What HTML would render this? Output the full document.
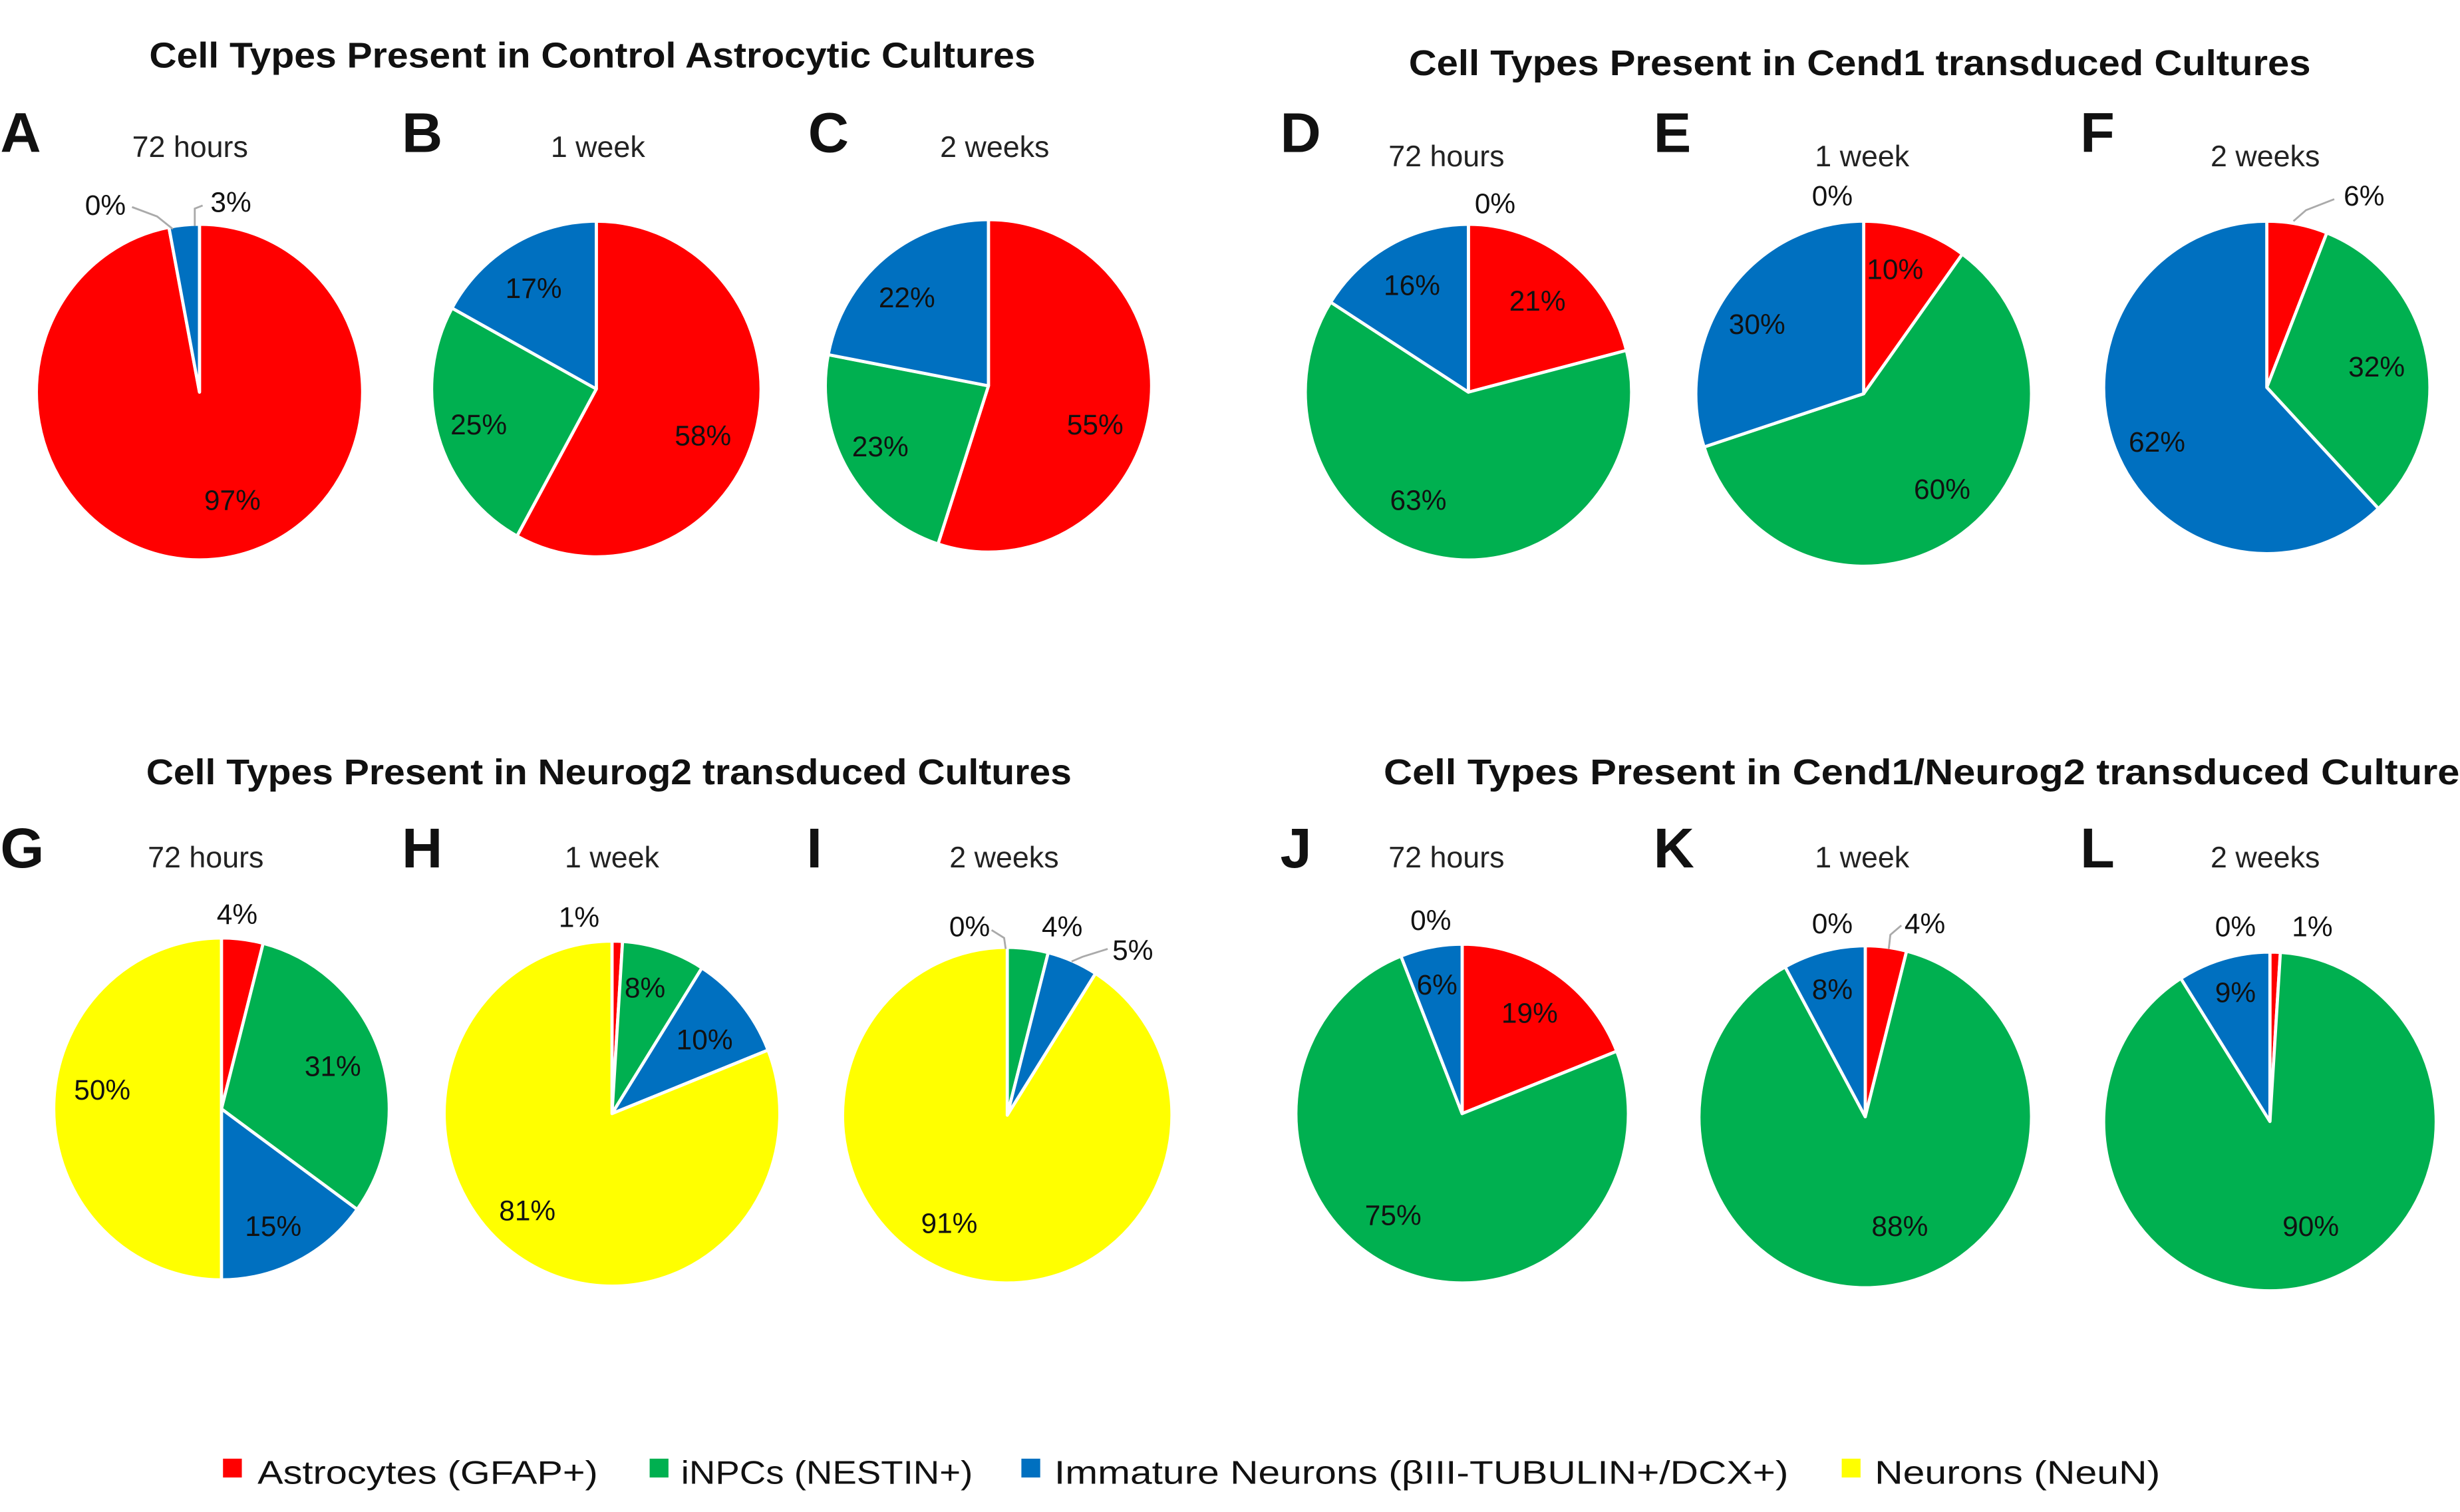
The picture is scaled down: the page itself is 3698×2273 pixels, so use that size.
<!DOCTYPE html>
<html><head><meta charset="utf-8"><style>
html,body{margin:0;padding:0;background:#fff;}
svg{display:block;}
text{font-family:"Liberation Sans","DejaVu Sans",sans-serif;}
</style></head><body>
<svg id="s" width="3698" height="2273" viewBox="0 0 1568 964" xmlns="http://www.w3.org/2000/svg">
<rect width="1568" height="964" fill="#fff"/>
<g font-weight="bold" font-size="23" fill="#111">
<text x="95" y="43" textLength="565" lengthAdjust="spacingAndGlyphs">Cell Types Present in Control Astrocytic Cultures</text>
<text x="898" y="48" textLength="575" lengthAdjust="spacingAndGlyphs">Cell Types Present in Cend1 transduced Cultures</text>
<text x="93" y="500" textLength="590" lengthAdjust="spacingAndGlyphs">Cell Types Present in Neurog2 transduced Cultures</text>
<text x="882" y="500" textLength="700" lengthAdjust="spacingAndGlyphs">Cell Types Present in Cend1/Neurog2 transduced Cultures</text>
</g>
<g font-weight="bold" font-size="36" fill="#111">
<text x="0" y="97">A</text><text x="256" y="97">B</text><text x="515" y="97">C</text>
<text x="816" y="97">D</text><text x="1054" y="97">E</text><text x="1326" y="97">F</text>
<text x="0" y="553">G</text><text x="256" y="553">H</text><text x="514" y="553">I</text>
<text x="816" y="553">J</text><text x="1054" y="553">K</text><text x="1326" y="553">L</text>
</g>
<g font-size="19" fill="#222" text-anchor="middle">
<text x="121" y="100">72 hours</text><text x="381" y="100">1 week</text><text x="634" y="100">2 weeks</text>
<text x="922" y="106">72 hours</text><text x="1187" y="106">1 week</text><text x="1444" y="106">2 weeks</text>
<text x="131" y="553">72 hours</text><text x="390" y="553">1 week</text><text x="640" y="553">2 weeks</text>
<text x="922" y="553">72 hours</text><text x="1187" y="553">1 week</text><text x="1444" y="553">2 weeks</text>
</g>
<g id="pies"></g>
<g font-size="18" fill="#111" id="labs">
<text x="54" y="137">0%</text><text x="134" y="135">3%</text><text x="130" y="325">97%</text>
<text x="322" y="190">17%</text><text x="287" y="277">25%</text><text x="430" y="284">58%</text>
<text x="560" y="196">22%</text><text x="543" y="291">23%</text><text x="680" y="277">55%</text>
<text x="940" y="136">0%</text><text x="882" y="188">16%</text><text x="962" y="198">21%</text><text x="886" y="325">63%</text>
<text x="1155" y="131">0%</text><text x="1102" y="213">30%</text><text x="1190" y="178">10%</text><text x="1220" y="318">60%</text>
<text x="1494" y="131">6%</text><text x="1497" y="240">32%</text><text x="1357" y="288">62%</text>
<text x="138" y="589">4%</text><text x="194" y="686">31%</text><text x="156" y="788">15%</text><text x="47" y="701">50%</text>
<text x="356" y="591">1%</text><text x="398" y="636">8%</text><text x="431" y="669">10%</text><text x="318" y="778">81%</text>
<text x="605" y="597">0%</text><text x="664" y="597">4%</text><text x="709" y="612">5%</text><text x="587" y="786">91%</text>
<text x="899" y="593">0%</text><text x="903" y="634">6%</text><text x="957" y="652">19%</text><text x="870" y="781">75%</text>
<text x="1155" y="595">0%</text><text x="1214" y="595">4%</text><text x="1155" y="637">8%</text><text x="1193" y="788">88%</text>
<text x="1412" y="597">0%</text><text x="1461" y="597">1%</text><text x="1412" y="639">9%</text><text x="1455" y="788">90%</text>
</g>
<g fill="none" stroke="#aaa" stroke-width="1.2">
<path d="M84 132 L100 138 L110 146"/><path d="M129 131 L124 133 L124 144"/>
<path d="M1488 127 L1470 134 L1462 141"/>
<path d="M632 593 L640 598 L641 605"/><path d="M706 605 L690 610 L683 613"/>
<path d="M1212 590 L1205 596 L1204 605"/>
</g>
<g font-size="21" fill="#111">
<rect x="142" y="930" width="12" height="12" fill="#ff0000"/><text x="164" y="946" textLength="217" lengthAdjust="spacingAndGlyphs">Astrocytes (GFAP+)</text>
<rect x="414" y="930" width="12" height="12" fill="#00b050"/><text x="434" y="946" textLength="186" lengthAdjust="spacingAndGlyphs">iNPCs (NESTIN+)</text>
<rect x="651" y="930" width="12" height="12" fill="#0070c0"/><text x="672" y="946" textLength="468" lengthAdjust="spacingAndGlyphs">Immature Neurons (βIII-TUBULIN+/DCX+)</text>
<rect x="1174" y="930" width="12" height="12" fill="#ffff00"/><text x="1195" y="946" textLength="182" lengthAdjust="spacingAndGlyphs">Neurons (NeuN)</text>
</g>
</svg>
<script>
var C=["#ff0000","#00b050","#0070c0","#ffff00"];
var P=[
[127,250,104,107,[97,0,3]],
[380,248,105,107,[58,25,17]],
[630,246,104,106,[55,23,22]],
[936,250,104,107,[21,63,16]],
[1188,251,107,110,[10,60,30]],
[1445,247,104,106,[6,32,62]],
[141,707,107,109,[4,31,15,50]],
[390,710,107,110,[1,8,10,81]],
[642,711,105,107,[0,4,5,91]],
[932,710,106,108,[19,75,6]],
[1189,712,106,109,[4,88,8]],
[1447,715,106,108,[1,90,9]]];
var g=document.getElementById("pies"),h="";
P.forEach(function(p){var cx=p[0],cy=p[1],rx=p[2],ry=p[3],v=p[4],t=v.reduce(function(a,b){return a+b},0),a=0;
v.forEach(function(val,i){if(val<=0)return;var a0=a/t*2*Math.PI,a1=(a+val)/t*2*Math.PI;a+=val;
var x0=cx+rx*Math.sin(a0),y0=cy-ry*Math.cos(a0),x1=cx+rx*Math.sin(a1),y1=cy-ry*Math.cos(a1);
var lg=(a1-a0)>Math.PI?1:0;
h+='<path d="M'+cx+' '+cy+' L'+x0.toFixed(2)+' '+y0.toFixed(2)+' A'+rx+' '+ry+' 0 '+lg+' 1 '+x1.toFixed(2)+' '+y1.toFixed(2)+' Z" fill="'+C[i]+'" stroke="#fff" stroke-width="2" stroke-linejoin="round"/>';});});
g.innerHTML=h;
</script>
</body></html>
